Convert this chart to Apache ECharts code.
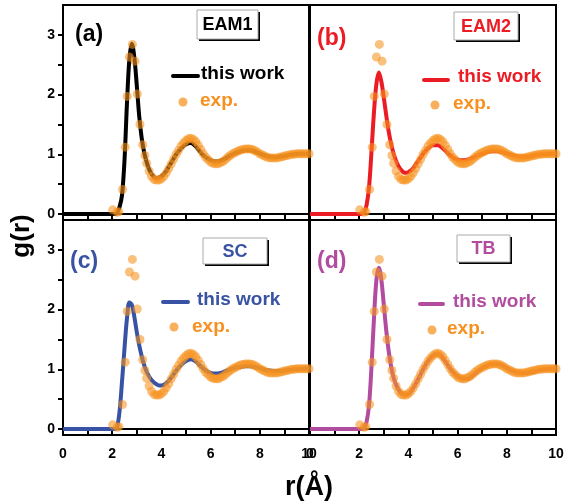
<!DOCTYPE html>
<html>
<head>
<meta charset="utf-8">
<script src="https://cdn.jsdelivr.net/npm/echarts@6/dist/echarts.min.js"></script>
<style>html,body{margin:0;padding:0;background:#fff}#c{width:571px;height:504px}</style>
</head>
<body>
<div id="c"></div>
<script>
// ---- data ----
var panelNames = ['(a)', '(b)', '(c)', '(d)'];
var modelNames = ['EAM1', 'EAM2', 'SC', 'TB'];
var xTicks = [0, 2, 4, 6, 8, 10];
var yTicks = [0, 1, 2, 3];

var expR = [2.02, 2.2, 2.27, 2.42, 2.53, 2.61, 2.70, 2.82, 2.93, 3.02, 3.13, 3.24, 3.33,
  3.4, 3.5, 3.6, 3.7, 3.8, 3.9, 4.0, 4.1, 4.2, 4.3, 4.4, 4.5, 4.6, 4.7, 4.8, 4.9,
  5.0, 5.1, 5.2, 5.3, 5.4, 5.5, 5.6, 5.7, 5.8, 5.9, 6.0, 6.1, 6.2, 6.3, 6.4, 6.5,
  6.6, 6.7, 6.8, 6.9, 7.0, 7.1, 7.2, 7.3, 7.4, 7.5, 7.6, 7.7, 7.8, 7.9, 8.0, 8.1,
  8.2, 8.3, 8.4, 8.5, 8.6, 8.7, 8.8, 8.9, 9.0, 9.1, 9.2, 9.3, 9.4, 9.5, 9.6, 9.7,
  9.8, 9.9, 10.0];
var expG = [0.07, 0.03, 0.04, 0.41, 1.12, 1.97, 2.63, 2.84, 2.56, 2.01, 1.50, 1.16, 0.98,
  0.85, 0.72, 0.63, 0.58, 0.57, 0.57, 0.59, 0.63, 0.69, 0.76, 0.84, 0.92, 1.00, 1.07, 1.14, 1.19,
  1.23, 1.26, 1.27, 1.25, 1.21, 1.15, 1.08, 1.01, 0.95, 0.91, 0.87, 0.85, 0.84, 0.84, 0.86, 0.88,
  0.91, 0.95, 0.98, 1.01, 1.03, 1.05, 1.07, 1.08, 1.09, 1.09, 1.09, 1.08, 1.06, 1.04, 1.01, 0.99,
  0.97, 0.95, 0.94, 0.94, 0.94, 0.94, 0.95, 0.96, 0.97, 0.98, 0.99, 1.00, 1.00, 1.01, 1.01, 1.01,
  1.01, 1.01, 1.01];

var modelR = [0, 2.0, 2.1, 2.2, 2.3, 2.4, 2.5, 2.6, 2.7, 2.8, 2.9, 3.0, 3.1, 3.2, 3.3, 3.4, 3.5,
  3.6, 3.7, 3.8, 3.9, 4.0, 4.1, 4.2, 4.3, 4.4, 4.5, 4.6, 4.8, 5.0, 5.2, 5.4, 5.6, 5.8, 6.0,
  6.2, 6.4, 6.6, 6.8, 7.0, 7.2, 7.4, 7.6, 7.8, 8.0, 8.2, 8.4, 8.6, 8.8, 9.0, 9.2, 9.4, 9.6,
  9.8, 10.0];
var gEAM1 = [0, 0, 0, 0.02, 0.12, 0.32, 0.90, 1.85, 2.60, 2.85, 2.62, 2.15, 1.63, 1.27, 1.03, 0.87, 0.75,
  0.67, 0.62, 0.60, 0.61, 0.63, 0.67, 0.72, 0.79, 0.86, 0.93, 1.00, 1.10, 1.17, 1.19, 1.13, 1.03, 0.95, 0.90,
  0.88, 0.89, 0.93, 0.98, 1.02, 1.05, 1.07, 1.07, 1.05, 1.01, 0.98, 0.96, 0.95, 0.96, 0.97, 0.99, 1.00, 1.01,
  1.01, 1.01];
var gEAM2 = [0, 0, 0, 0.03, 0.15, 0.45, 1.05, 1.70, 2.18, 2.37, 2.22, 1.95, 1.65, 1.38, 1.17, 1.01, 0.89,
  0.80, 0.74, 0.70, 0.69, 0.70, 0.73, 0.77, 0.83, 0.89, 0.95, 1.01, 1.10, 1.15, 1.15, 1.10, 1.02, 0.95, 0.91,
  0.90, 0.91, 0.94, 0.98, 1.01, 1.04, 1.05, 1.05, 1.04, 1.01, 0.99, 0.97, 0.96, 0.96, 0.97, 0.99, 1.00, 1.00,
  1.01, 1.01];
var gSC = [0, 0, 0, 0.04, 0.30, 0.80, 1.35, 1.85, 2.12, 2.08, 1.88, 1.62, 1.40, 1.22, 1.07, 0.96, 0.88,
  0.82, 0.78, 0.75, 0.73, 0.73, 0.74, 0.77, 0.81, 0.86, 0.92, 0.98, 1.07, 1.14, 1.17, 1.13, 1.05, 0.98, 0.94,
  0.93, 0.94, 0.97, 1.00, 1.03, 1.04, 1.05, 1.05, 1.04, 1.02, 0.99, 0.98, 0.97, 0.97, 0.98, 0.99, 1.00, 1.00,
  1.01, 1.01];
var gTB = [0, 0, 0, 0.02, 0.12, 0.40, 1.05, 1.85, 2.50, 2.70, 2.50, 2.08, 1.65, 1.30, 1.04, 0.86, 0.74,
  0.66, 0.60, 0.58, 0.57, 0.59, 0.63, 0.69, 0.76, 0.84, 0.92, 1.00, 1.14, 1.23, 1.26, 1.19, 1.07, 0.96, 0.88,
  0.84, 0.84, 0.89, 0.96, 1.02, 1.06, 1.09, 1.09, 1.07, 1.02, 0.98, 0.95, 0.94, 0.94, 0.95, 0.97, 0.99, 1.00,
  1.01, 1.02];
var modelG = [gEAM1, gEAM2, gSC, gTB];

// ---- styling ----
var colors = ['#000000', '#ec1c24', '#3953a4', '#b24c9f'];
var expColor = 'rgba(247,146,30,0.72)';
var expText = '#f7901e';
var FONT = 'Liberation Sans';

var grids = [
  {left: 63, top: 5, width: 246, height: 215},
  {left: 310, top: 5, width: 246, height: 215},
  {left: 63, top: 220, width: 246, height: 215},
  {left: 310, top: 220, width: 246, height: 215}
];
grids.forEach(function (g) { g.show = true; g.borderColor = '#000'; g.borderWidth = 2; g.backgroundColor = 'transparent'; });

function pairs(xs, ys) { return xs.map(function (x, i) { return [x, ys[i]]; }); }

var xAxes = [], yAxes = [], series = [];
for (var i = 0; i < 4; i++) {
  var isBottom = i >= 2, isLeft = (i % 2 === 0);
  xAxes.push({
    type: 'value', gridIndex: i, min: 0, max: 10, interval: 1,
    axisLine: {show: true, lineStyle: {color: '#000', width: 2}},
    axisTick: {show: true, length: 5, lineStyle: {color: '#000', width: 2}},
    splitLine: {show: false},
    axisLabel: {show: isBottom, customValues: xTicks, margin: 12, color: '#000', fontFamily: FONT, fontWeight: 'bold', fontSize: 14}
  });
  yAxes.push({
    type: 'value', gridIndex: i, min: -0.1, max: 3.5,
    axisLine: {show: true, lineStyle: {color: '#000', width: 2}},
    axisTick: {show: isLeft, length: 5, customValues: [0, 0.5, 1, 1.5, 2, 2.5, 3], lineStyle: {color: '#000', width: 2}},
    splitLine: {show: false},
    axisLabel: {show: isLeft, customValues: yTicks, margin: 8, color: '#000', fontFamily: FONT, fontWeight: 'bold', fontSize: 14}
  });
  series.push({
    type: 'line', xAxisIndex: i, yAxisIndex: i, data: pairs(modelR, modelG[i]),
    showSymbol: false, smooth: 0.35, lineStyle: {color: colors[i], width: 4}, z: 2, silent: true
  });
  series.push({
    type: 'scatter', xAxisIndex: i, yAxisIndex: i, data: pairs(expR, expG),
    symbol: 'circle', symbolSize: 9, itemStyle: {color: expColor}, clip: false, z: 3, silent: true
  });
}

// annotation layout per panel
var ann = [
  {p: [75, 36], box: [197, 10, 61, 29], line: [173, 198, 76], tw: [201, 74], dot: [183, 102], ex: [200, 101]},
  {p: [317, 40], box: [454, 12, 64, 28], line: [424, 448, 80], tw: [458, 77], dot: [435, 105], ex: [453, 104]},
  {p: [70, 263], box: [203, 238, 64, 26], line: [163, 188, 302], tw: [197, 300], dot: [174, 327], ex: [192, 327]},
  {p: [317, 263], box: [457, 235, 53, 27], line: [420, 443, 304], tw: [453, 302], dot: [432, 330], ex: [447, 329]}
];
var graphics = [];
ann.forEach(function (a, i) {
  graphics.push({type: 'text', left: a.p[0], top: a.p[1] - 13, style: {text: panelNames[i], fill: colors[i], font: 'bold 23px ' + FONT}});
  graphics.push({type: 'rect', shape: {x: a.box[0] + 2, y: a.box[1] + 2, width: a.box[2], height: a.box[3]}, style: {fill: '#000'}});
  graphics.push({type: 'rect', shape: {x: a.box[0], y: a.box[1], width: a.box[2], height: a.box[3]}, style: {fill: '#fff', stroke: '#aaa', lineWidth: 1}});
  graphics.push({type: 'text', x: a.box[0] + a.box[2] / 2, y: a.box[1] + a.box[3] / 2 + 1, style: {text: modelNames[i], fill: colors[i], font: 'bold 18px ' + FONT, align: 'center', verticalAlign: 'middle'}});
  graphics.push({type: 'line', shape: {x1: a.line[0], y1: a.line[2], x2: a.line[1], y2: a.line[2]}, style: {stroke: colors[i], lineWidth: 4, lineCap: 'round'}});
  graphics.push({type: 'text', x: a.tw[0], y: a.tw[1], style: {text: 'this work', fill: colors[i], font: 'bold 19px ' + FONT, verticalAlign: 'middle'}});
  graphics.push({type: 'circle', shape: {cx: a.dot[0], cy: a.dot[1], r: 4.5}, style: {fill: expColor}});
  graphics.push({type: 'text', x: a.ex[0], y: a.ex[1], style: {text: 'exp.', fill: expText, font: 'bold 19px ' + FONT, verticalAlign: 'middle'}});
});
graphics.push({type: 'text', x: 22, y: 236, rotation: Math.PI / 2, style: {text: 'g(r)', fill: '#000', font: 'bold 26px ' + FONT, align: 'center', verticalAlign: 'middle'}});
graphics.push({type: 'text', x: 309, y: 488, style: {text: 'r(Å)', fill: '#000', font: 'bold 27px ' + FONT, align: 'center', verticalAlign: 'middle'}});

var chart = echarts.init(document.getElementById('c'), null, {renderer: 'canvas'});
chart.setOption({
  animation: false,
  backgroundColor: '#fff',
  grid: grids,
  xAxis: xAxes,
  yAxis: yAxes,
  series: series,
  graphic: graphics
});
</script>
</body>
</html>
